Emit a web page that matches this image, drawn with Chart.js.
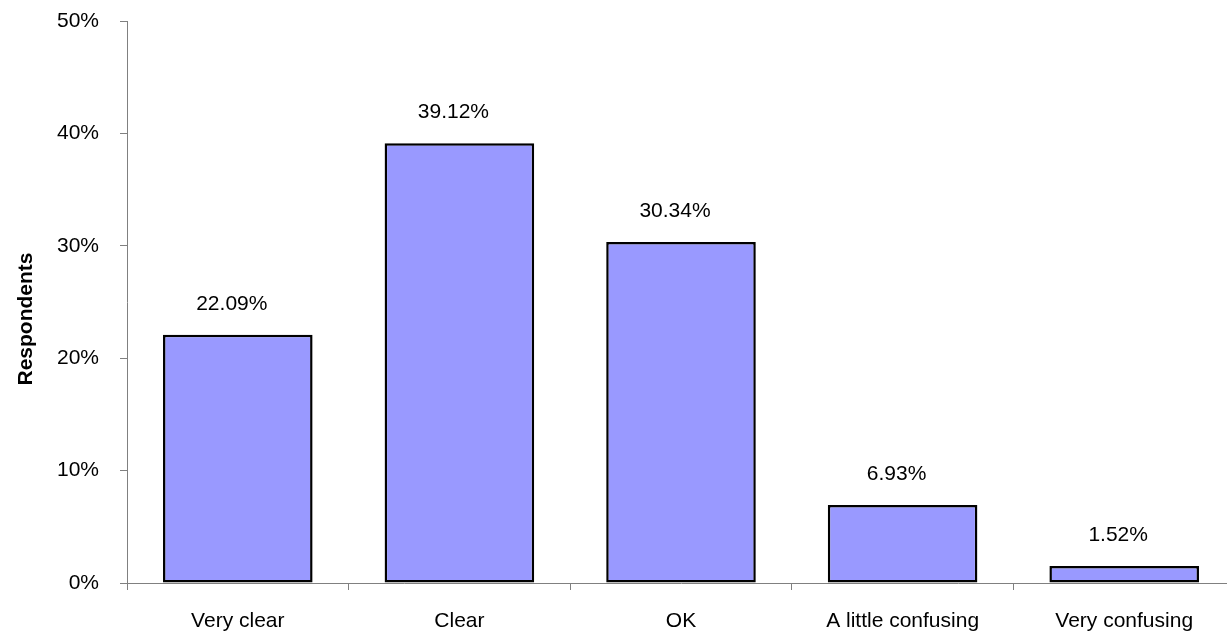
<!DOCTYPE html>
<html>
<head>
<meta charset="utf-8">
<script src="https://cdn.jsdelivr.net/npm/chart.js@4/dist/chart.umd.min.js"></script>
<style>
  html, body { margin: 0; padding: 0; background: #fff; overflow: hidden; }
  #wrap { width: 1235px; height: 632px; }
</style>
</head>
<body>
<div id="wrap"><canvas id="myChart" width="1235" height="632"></canvas></div>
<script>
// survey answers, share of respondents in %
const categories = ['Very clear', 'Clear', 'OK', 'A little confusing', 'Very confusing'];
const shares = [22.09, 39.12, 30.34, 6.93, 1.52];
const yTicks = [0, 10, 20, 30, 40, 50];
const axisTitle = 'Respondents';

const FONT = 'Liberation Sans, Arial, sans-serif';

// value labels above each bar + the rotated axis title
const barLabels = {
  id: 'barLabels',
  afterDraw(chart) {
    const ctx = chart.ctx;
    const meta = chart.getDatasetMeta(0);
    ctx.save();
    ctx.fillStyle = '#000';
    ctx.font = '21px ' + FONT;
    ctx.textAlign = 'center';
    ctx.textBaseline = 'middle';
    meta.data.forEach(function(bar, i) {
      ctx.fillText(shares[i].toFixed(2) + '%', bar.x - 6, bar.y - 31);
    });
    ctx.translate(26, 319);
    ctx.rotate(-Math.PI / 2);
    ctx.font = 'bold 21px ' + FONT;
    ctx.fillText(axisTitle, 0, 0);
    ctx.restore();
  }
};

const ctx = document.getElementById('myChart').getContext('2d');
const myChart = new Chart(ctx, {
  type: 'bar',
  data: {
    labels: categories,
    datasets: [{
      data: shares,
      backgroundColor: '#9999FF',
      borderColor: '#000000',
      borderWidth: 2.5,
      borderSkipped: false,
      barPercentage: 0.675,
      categoryPercentage: 1.0
    }]
  },
  options: {
    responsive: false,
    animation: false,
    layout: { padding: { top: 21, right: 0, bottom: 0, left: 0 } },
    plugins: {
      legend: { display: false },
      tooltip: { enabled: false }
    },
    scales: {
      x: {
        offset: true,
        grid: {
          offset: true,
          drawOnChartArea: false,
          tickLength: 7,
          color: '#808080'
        },
        border: { color: '#808080', width: 1 },
        ticks: {
          color: '#000',
          font: { family: FONT, size: 21 },
          padding: 19,
          maxRotation: 0,
          autoSkip: false
        },
        afterFit(scale) {
          scale.height = 49;
          scale.paddingLeft = 0;
          scale.paddingRight = 0;
        }
      },
      y: {
        min: 0,
        max: 50,
        afterBuildTicks(scale) {
          scale.ticks = yTicks.map(v => ({ value: v }));
        },
        grid: {
          drawOnChartArea: false,
          tickLength: 7,
          color: '#808080'
        },
        border: { color: '#808080', width: 1 },
        ticks: {
          color: '#000',
          font: { family: FONT, size: 21 },
          padding: 21,
          callback: v => v + '%'
        },
        afterFit(scale) {
          scale.width = 127;
          scale.paddingTop = 0;
          scale.paddingBottom = 0;
        }
      }
    }
  },
  plugins: [barLabels]
});
</script>
</body>
</html>
